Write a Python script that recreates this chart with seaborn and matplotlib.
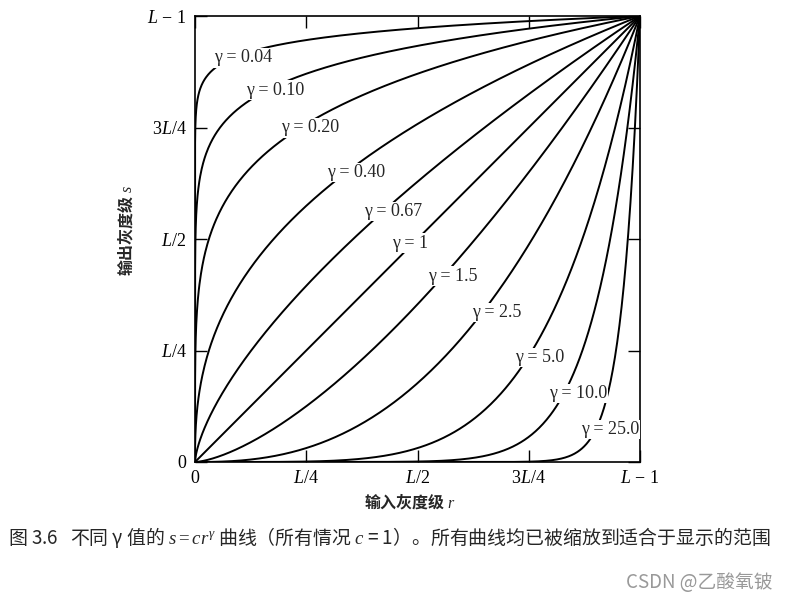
import numpy as np
import pandas as pd
import matplotlib
matplotlib.use("Agg")
import matplotlib.pyplot as plt
import seaborn as sns

# data
gammas = [0.04, 0.10, 0.20, 0.40, 0.67, 1, 1.5, 2.5, 5.0, 10.0, 25.0]
gamma_labels = ["0.04", "0.10", "0.20", "0.40", "0.67", "1", "1.5", "2.5", "5.0", "10.0", "25.0"]
tick_vals = [0, 0.25, 0.5, 0.75, 1.0]
tick_labels = ["0", "$L/4$", "$L/2$", "$3L/4$", "$L\\,-\\,1$"]

# label anchor positions (layout)
label_pos = [(0.108, 0.906), (0.180, 0.834), (0.258, 0.749), (0.362, 0.650),
             (0.445, 0.561), (0.483, 0.491), (0.580, 0.417), (0.679, 0.336),
             (0.775, 0.235), (0.861, 0.154), (0.933, 0.072)]

sns.set_theme(style="white")
plt.rcParams["font.family"] = ["Liberation Serif", "Noto Sans CJK SC", "DejaVu Sans"]
plt.rcParams["mathtext.fontset"] = "custom"
plt.rcParams["mathtext.rm"] = "Liberation Serif"
plt.rcParams["mathtext.it"] = "Liberation Serif:italic"

r = np.concatenate([np.geomspace(1e-9, 0.01, 400), np.linspace(0.01, 1, 600)[1:]])
r = np.concatenate([[0.0], r])
rows = []
for g in gammas:
    rows.append(pd.DataFrame({"r": r, "s": r ** g, "gamma": str(g)}))
df = pd.concat(rows, ignore_index=True)

fig = plt.figure(figsize=(7.85, 6.03), dpi=100)
ax = fig.add_axes([195 / 785, 141 / 603, 445 / 785, 446 / 603])
sns.lineplot(data=df, x="r", y="s", hue="gamma", palette=["black"] * len(gammas),
             legend=False, ax=ax, linewidth=1.4, sort=False, estimator=None)

ax.set_xlim(0, 1)
ax.set_ylim(0, 1)
ax.set_xticks(tick_vals)
ax.set_xticklabels(tick_labels)
ax.set_yticks(tick_vals)
ax.set_yticklabels(tick_labels)
ax.tick_params(direction="in", length=8.5, width=1, colors="black", labelsize=13,
               top=True, right=True, bottom=True, left=True, pad=6)
for sp in ax.spines.values():
    sp.set_visible(True)
    sp.set_color("black")
    sp.set_linewidth(1.2)
ax.set_xlabel("")
ax.set_ylabel("")

for (x, y), lab in zip(label_pos, gamma_labels):
    ax.text(x, y, "γ = " + lab, fontsize=13, ha="center", va="center",
            family=["Liberation Serif"], zorder=5,
            bbox=dict(facecolor="white", edgecolor="none", pad=0.8))

fig.text(125 / 785, 1 - 230 / 603, "输出灰度级 $s$", rotation=90, ha="center", va="center",
         fontsize=11.5, fontweight="bold", family=["Noto Sans CJK SC", "Liberation Serif"])
fig.text(410 / 785, 1 - 501 / 603, "输入灰度级 $r$", ha="center", va="center",
         fontsize=11.5, fontweight="bold", family=["Noto Sans CJK SC", "Liberation Serif"])

fig.text(8 / 785, 1 - 538 / 603,
         "图 3.6   不同 γ 值的 $s = cr^{\\gamma}$ 曲线（所有情况 $c$ = 1）。所有曲线均已被缩放到适合于显示的范围",
         ha="left", va="center", fontsize=13.6, family=["Noto Sans CJK SC", "Liberation Serif"])
fig.text(772 / 785, 1 - 583 / 603, "CSDN @乙酸氧铍", ha="right", va="center",
         fontsize=13.5, color="#999999", family=["Noto Sans CJK SC", "DejaVu Sans"])

fig.savefig("out.png", dpi=100, facecolor="white")
